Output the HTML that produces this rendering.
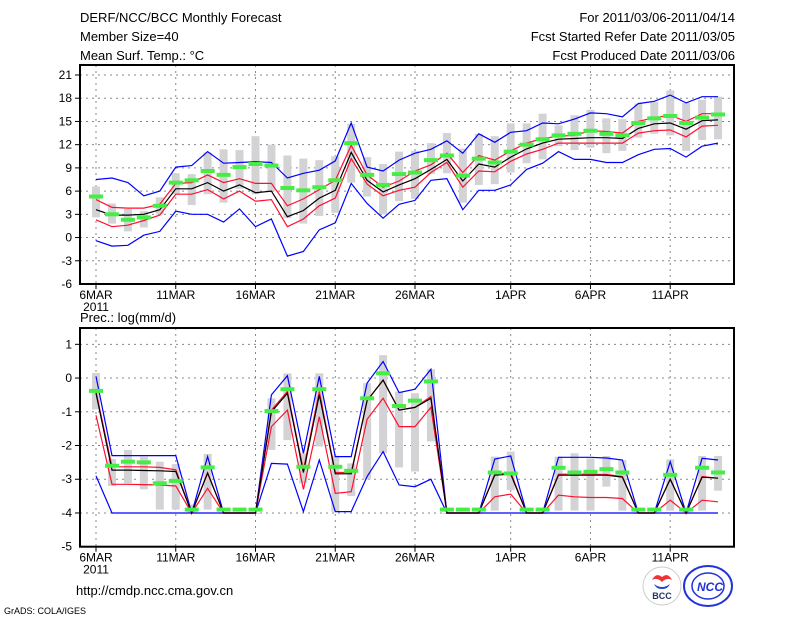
<!DOCTYPE html>
<html><head><meta charset="utf-8"><style>
body{margin:0;background:#fff;}
svg{display:block;font-family:"Liberation Sans",sans-serif;}
</style></head><body>
<svg id="c" width="800" height="618" viewBox="0 0 800 618">
<rect width="800" height="618" fill="#fff"/>
<g font-size="13" fill="#000">
<text x="80" y="22">DERF/NCC/BCC Monthly Forecast</text>
<text x="80" y="41">Member Size=40</text>
<text x="80" y="60">Mean Surf. Temp.: °C</text>
<text x="735" y="22" text-anchor="end">For 2011/03/06-2011/04/14</text>
<text x="735" y="41" text-anchor="end">Fcst Started Refer Date 2011/03/05</text>
<text x="735" y="60" text-anchor="end">Fcst Produced Date 2011/03/06</text>
<text x="80" y="322">Prec.: log(mm/d)</text>
<text x="76" y="595">http://cmdp.ncc.cma.gov.cn</text>
<text x="4" y="614" font-size="9">GrADS: COLA/IGES</text>
</g>
<g>
<circle cx="662" cy="586" r="19" fill="#fff" stroke="#ccc"/>
<path d="M652 580 q4 -8 10 -3 q6 -5 10 3 q-5 -3 -10 2 q-5 -5 -10 -2z" fill="#e33"/>
<path d="M654 584 q8 6 16 0 q-2 5 -8 5 q-6 0 -8 -5z" fill="#24c"/>
<text x="662" y="599" font-size="9" font-weight="bold" text-anchor="middle" fill="#236">BCC</text>
</g>
<g>
<ellipse cx="708" cy="586" rx="24" ry="20" fill="none" stroke="#23d" stroke-width="2"/>
<ellipse cx="708" cy="586" rx="16" ry="13" fill="none" stroke="#23d" stroke-width="1.5"/>
<text x="710" y="591" font-size="12" font-weight="bold" font-style="italic" text-anchor="middle" fill="#23d">NCC</text>
</g>
<g id="top"></g><g id="bot"></g>
</svg>
<script>
const tBlueUp=[7.5,7.7,7.1,5.4,6.0,9.1,9.3,11.1,9.6,9.7,9.8,9.7,7.7,8.3,8.7,9.9,14.8,9.1,8.6,10.0,10.9,11.4,12.5,10.9,13.4,12.3,13.6,13.8,14.8,14.7,15.3,16.1,16.0,15.6,17.3,17.6,18.4,17.4,18.2,18.2];
const tBlueLo=[-0.4,-1.1,-1.0,0.3,0.8,3.4,3.0,3.0,2.0,3.7,1.4,2.4,-2.4,-1.8,1.0,1.9,7.0,4.4,2.5,4.3,4.8,7.4,7.6,3.6,6.1,6.1,6.8,8.8,9.6,11.1,10.1,10.1,9.7,9.7,10.7,11.4,11.5,10.4,11.8,12.2];
const tRedUp=[4.9,3.9,3.8,3.8,4.3,7.0,7.1,8.1,7.1,7.6,7.0,7.0,4.1,5.0,6.2,7.4,11.9,8.1,6.5,7.3,8.6,9.4,10.9,8.4,10.6,10.0,11.2,12.2,12.8,13.1,13.2,13.8,13.7,13.5,15.0,15.5,15.8,15.0,16.0,16.0];
const tRedLo=[2.3,1.4,1.6,2.2,2.9,5.6,5.6,6.2,5.0,6.0,4.7,4.9,1.4,2.4,4.1,5.1,10.2,6.9,5.4,6.1,6.5,8.4,9.7,6.5,8.6,8.5,9.85,10.8,11.4,12.2,12.2,12.2,12.2,12.2,13.5,13.8,13.9,13.0,14.4,14.5];
const tMean=[3.6,2.9,2.9,3.0,3.6,6.3,6.3,7.1,6.0,6.8,5.8,6.0,2.7,3.5,5.1,6.1,11.0,7.4,5.9,6.8,7.6,8.8,10.1,7.3,9.5,9.1,10.4,11.45,12.2,12.7,12.8,12.9,12.9,12.8,14.1,14.7,14.8,14.0,15.1,15.2];
const tObs=[5.3,3.0,2.3,2.6,4.1,7.1,7.4,8.6,8.1,9.1,9.5,9.3,6.4,6.1,6.5,7.4,12.2,8.1,6.8,8.2,8.4,10.0,10.6,8.0,10.2,9.7,11.1,12.0,12.7,13.2,13.4,13.8,13.4,13.2,14.8,15.4,15.7,14.8,15.5,15.9];
const tBarTop=[6.6,4.4,3.7,3.4,5.2,8.3,8.2,11.0,11.4,11.3,13.1,12.0,10.6,10.2,10.0,10.5,14.7,10.4,9.5,11.1,11.2,12.2,13.5,11.5,13.4,13.1,14.75,14.75,16.0,14.5,15.8,16.5,15.4,15.3,17.3,17.5,19.0,17.4,17.8,18.2];
const tBarBot=[2.6,1.8,0.8,1.3,3.0,5.6,4.2,5.6,4.5,6.3,5.6,6.0,2.5,1.8,2.8,3.2,7.1,5.3,3.0,4.7,5.0,8.2,8.3,4.5,6.8,6.9,8.4,9.6,10.1,11.8,11.3,11.6,10.9,11.2,12.9,13.4,13.2,11.2,12.6,12.7];
const tTicks=[-6,-3,0,3,6,9,12,15,18,21];
const pBlueUp=[0.05,-2.3,-2.3,-2.3,-2.3,-2.3,-4,-2.33,-4,-4,-4,-0.5,0.07,-2.23,0.05,-2.33,-2.33,-0.15,0.49,-0.43,-0.33,0.26,-4,-4,-4,-2.4,-2.31,-4,-4,-2.35,-2.35,-2.35,-2.37,-2.43,-4,-4,-2.48,-4,-2.38,-2.43];
const pBlueLo=[-2.9,-4,-4,-4,-4,-4,-4,-4,-4,-4,-4,-2.53,-2.55,-3.96,-2.43,-3.96,-3.96,-2.92,-2.18,-3.17,-3.22,-3.0,-4,-4,-4,-4,-4,-4,-4,-4,-4,-4,-4,-4,-4,-4,-4,-4,-4,-4];
const pRedUp=[-0.4,-2.63,-2.63,-2.63,-2.65,-2.72,-4,-2.8,-4,-4,-4,-0.95,-0.4,-2.73,-0.4,-2.8,-2.8,-0.67,-0.06,-0.95,-0.87,-0.55,-4,-4,-4,-2.85,-2.8,-4,-4,-2.85,-2.85,-2.85,-2.86,-2.92,-4,-4,-3.0,-4,-2.92,-2.97];
const pRedLo=[-1.1,-3.15,-3.15,-3.16,-3.17,-3.2,-4,-3.27,-4,-4,-4,-1.44,-0.95,-3.3,-1.15,-3.42,-3.37,-1.22,-0.6,-1.44,-1.44,-0.87,-4,-4,-4,-3.52,-3.44,-4,-4,-3.47,-3.52,-3.54,-3.54,-3.57,-4,-4,-3.62,-4,-3.62,-3.67];
const pMean=[-0.45,-2.73,-2.73,-2.74,-2.75,-2.77,-4,-2.82,-4,-4,-4,-1.0,-0.45,-2.8,-0.5,-2.84,-2.84,-0.67,-0.06,-0.95,-0.87,-0.6,-4,-4,-4,-2.88,-2.85,-4,-4,-2.88,-2.88,-2.88,-2.88,-2.94,-4,-4,-3.0,-4,-2.94,-2.97];
const pObs=[-0.38,-2.6,-2.48,-2.5,-3.12,-3.05,-3.9,-2.65,-3.9,-3.9,-3.9,-0.98,-0.33,-2.63,-0.33,-2.63,-2.75,-0.6,0.14,-0.83,-0.67,-0.1,-3.9,-3.9,-3.9,-2.8,-2.83,-3.9,-3.9,-2.66,-2.8,-2.78,-2.7,-2.8,-3.9,-3.9,-2.87,-3.9,-2.66,-2.8];
const pBarTop=[0.15,-2.4,-2.13,-2.33,-2.48,-2.55,-3.75,-2.25,-4,-4,-4,-0.6,0.14,-2.23,0.14,-2.3,-2.53,-0.15,0.68,-0.4,-0.45,0.26,-4,-4,-4,-2.33,-2.18,-4,-4,-2.33,-2.23,-2.38,-2.31,-2.43,-4,-4,-2.41,-4,-2.31,-2.31];
const pBarBot=[-0.93,-3.2,-3.12,-3.3,-3.9,-3.9,-4,-3.9,-4,-4,-4,-2.13,-1.84,-3.12,-2.03,-3.96,-3.5,-3.0,-2.23,-2.65,-2.77,-1.88,-4,-4,-4,-3.93,-3.32,-4,-4,-3.93,-3.93,-3.93,-3.22,-3.93,-4,-4,-3.93,-4,-3.93,-3.34];
const pTicks=[-5,-4,-3,-2,-1,0,1];
const dateLabels=["6MAR","11MAR","16MAR","21MAR","26MAR","1APR","6APR","11APR"];
const dateDays=[0,5,10,15,20,26,31,36];

const NS="http://www.w3.org/2000/svg";
function mk(tag,attrs,parent){const e=document.createElementNS(NS,tag);for(const k in attrs)e.setAttribute(k,attrs[k]);parent.appendChild(e);return e;}
const X0=80,X1=734;
function xd(d){return 96+d*15.95;}

function panel(g,top,bottom,ticks,ymap,S,prefix){
  const yT=ymap;
  ticks.forEach(t=>{
    if(t===ticks[0])return;
    const l=mk('line',{x1:X0,x2:X1,y1:yT(t),y2:yT(t),stroke:'#888','stroke-dasharray':'2,4','stroke-width':1},g);
    
    
    const tx=mk('text',{x:72,y:yT(t)+4,'text-anchor':'end','font-size':12},g);
    tx.textContent=t;
    
    
    const tk=mk('line',{x1:X0-5,x2:X0,y1:yT(t),y2:yT(t),stroke:'#000'},g);
    
    
  });
  const lt=mk('text',{x:72,y:yT(ticks[0])+4,'text-anchor':'end','font-size':12},g);
  lt.textContent=ticks[0];
  
  
  dateDays.forEach((d,i)=>{
    const l=mk('line',{x1:xd(d),x2:xd(d),y1:top,y2:bottom,stroke:'#888','stroke-dasharray':'2,4'},g);
    
    
    const tk=mk('line',{x1:xd(d),x2:xd(d),y1:bottom,y2:bottom+5,stroke:'#000'},g);
    
    
    const tx=mk('text',{x:xd(d),y:bottom+15,'text-anchor':'middle','font-size':12},g);
    tx.textContent=dateLabels[i];
    
    
  });
  const yr=mk('text',{x:xd(0),y:bottom+27,'text-anchor':'middle','font-size':12},g);
  yr.textContent='2011';
  
  
  S.barTop.forEach((v,d)=>{
    const y1=yT(v),y2=yT(S.barBot[d]);
    const r=mk('rect',{x:xd(d)-4,y:Math.min(y1,y2),width:8,height:Math.max(1,Math.abs(y2-y1)),fill:'#d3d3d6'},g);
    
    
  });
  const lines=[[S.blueUp,'#0000ff','blue-upper'],[S.blueLo,'#0000ff','blue-lower'],[S.redUp,'#ff1030','red-upper'],[S.redLo,'#ff1030','red-lower'],[S.mean,'#000','ensemble-mean']];
  lines.forEach(([arr,c,n])=>{
    const p=mk('polyline',{points:arr.map((v,d)=>xd(d).toFixed(1)+','+yT(v).toFixed(1)).join(' '),fill:'none',stroke:c,'stroke-width':1.2},g);
    
    
  });
  S.obs.forEach((v,d)=>{
    const r=mk('rect',{x:xd(d)-7,y:yT(v)-2,width:14,height:4,fill:'#44ee44'},g);
    
    
  });
  const f=mk('rect',{x:X0,y:top,width:X1-X0,height:bottom-top,fill:'none',stroke:'#000','stroke-width':2},g);
  
  
}
const tTop=65,tBot=284;
panel(document.getElementById('top'),tTop,tBot,tTicks,v=>tBot-(v+6)*(209/27),
 {blueUp:tBlueUp,blueLo:tBlueLo,redUp:tRedUp,redLo:tRedLo,mean:tMean,obs:tObs,barTop:tBarTop,barBot:tBarBot},'temp');
const pTop=328,pBot=546.7;
panel(document.getElementById('bot'),pTop,pBot,pTicks,v=>pBot-(v+5)*33.73,
 {blueUp:pBlueUp,blueLo:pBlueLo,redUp:pRedUp,redLo:pRedLo,mean:pMean,obs:pObs,barTop:pBarTop,barBot:pBarBot},'prec');
</script>
</body></html>
